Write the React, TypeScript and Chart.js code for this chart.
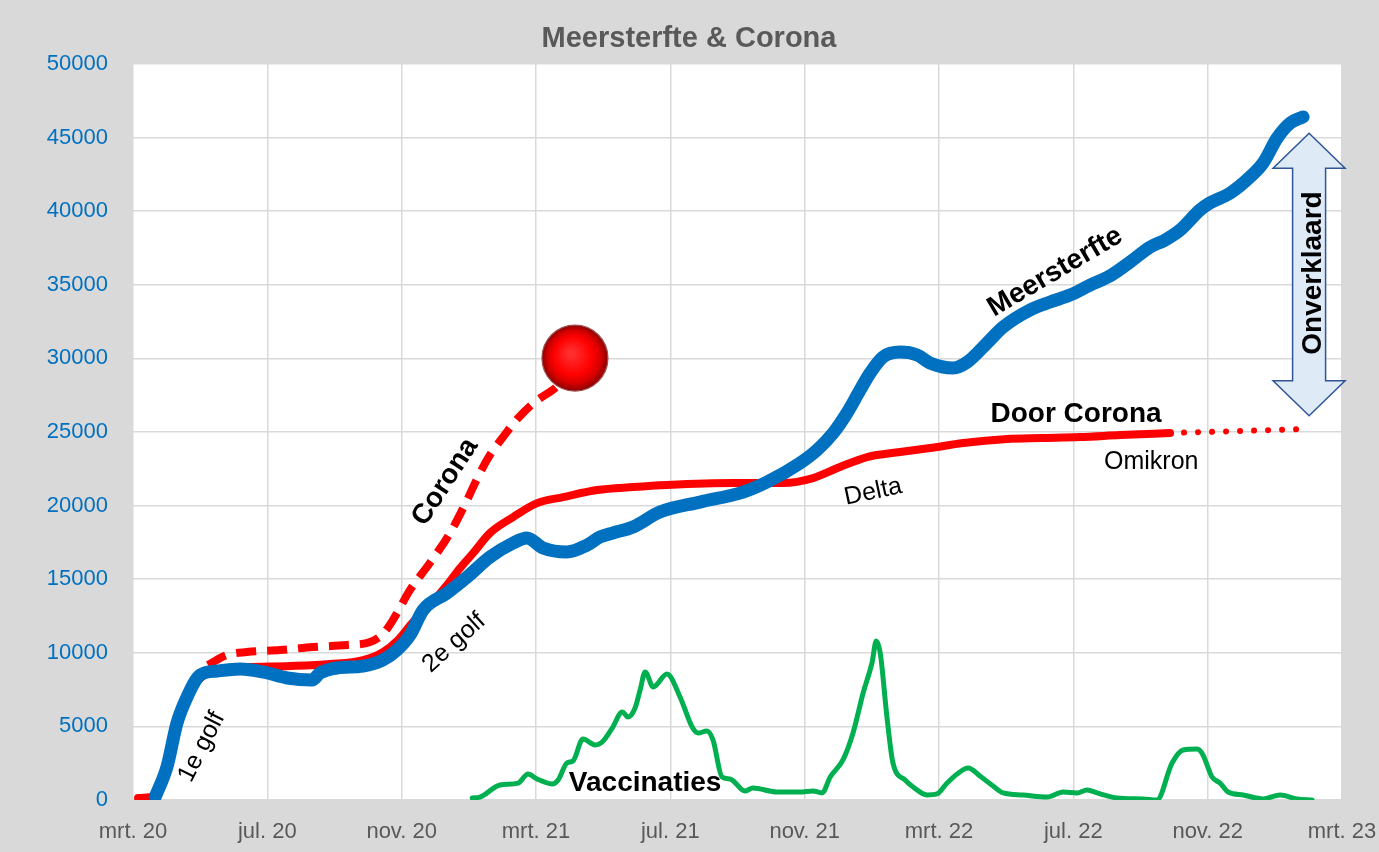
import { useEffect, useRef } from "react";
import { Chart, registerables } from "chart.js";

Chart.register(...registerables);

// ---- axis data (months since March 2020) ----
const xTickLabels = ["mrt. 20", "jul. 20", "nov. 20", "mrt. 21", "jul. 21", "nov. 21", "mrt. 22", "jul. 22", "nov. 22", "mrt. 23"];
const xMin = 0;
const xMax = 36;
const xStep = 4;
const yMin = 0;
const yMax = 50000;
const yStep = 5000;

// ---- Meersterfte (blue) ----
const meersterfteMonths = [0.66, 1.01, 1.31, 1.61, 2.0, 2.5, 3.19, 3.87, 4.59, 5.33, 5.57, 6.07, 6.85, 7.44, 7.86, 8.25, 8.64, 9.35, 9.95, 10.63, 11.32, 11.73, 12.21, 12.92, 13.52, 13.91, 14.29, 14.89, 15.69, 16.88, 18.17, 18.88, 19.86, 20.37, 20.85, 21.26, 21.65, 21.95, 22.33, 22.84, 23.35, 23.73, 24.42, 24.84, 25.43, 25.91, 26.71, 27.31, 27.9, 28.5, 29.09, 29.69, 30.29, 30.73, 31.18, 31.77, 32.07, 32.67, 33.26, 33.65, 34.07, 34.46, 34.84];
const meersterfteValues = [200, 2240, 5230, 7000, 8490, 8760, 8900, 8700, 8290, 8150, 8630, 8970, 9100, 9510, 10190, 11210, 12910, 14060, 15150, 16510, 17460, 17800, 17120, 16850, 17320, 17870, 18140, 18550, 19560, 20240, 20920, 21600, 22890, 23780, 24930, 26290, 27850, 29010, 30090, 30430, 30230, 29690, 29350, 29750, 31040, 32130, 33290, 33830, 34300, 34980, 35600, 36550, 37570, 38040, 38720, 40080, 40560, 41230, 42320, 43270, 44970, 45990, 46400];

// ---- Door Corona (red solid) ----
const doorCoronaMonths = [0.15, 0.57, 0.86, 1.16, 1.46, 1.76, 2.08, 2.59, 3.48, 4.68, 5.87, 6.85, 7.44, 7.89, 8.34, 8.84, 9.35, 9.74, 10.13, 10.63, 11.32, 12.03, 12.81, 13.82, 14.89, 15.9, 17.87, 19.36, 20.25, 21.05, 21.86, 22.84, 23.73, 24.72, 26.03, 27.01, 28.2, 29.39, 30.88];
const doorCoronaValues = [140, 200, 1020, 3400, 5980, 7610, 8420, 8900, 9030, 9100, 9240, 9510, 10050, 10870, 12090, 13250, 14600, 15760, 16780, 18140, 19220, 20170, 20580, 21060, 21260, 21400, 21530, 21530, 21870, 22620, 23300, 23640, 23910, 24250, 24520, 24590, 24660, 24790, 24930];

// ---- Door Corona extension (red dotted) ----
const extensionMonths = [30.88, 34.9];
const extensionValues = [24930, 25200];

// ---- Corona projection (red dashed) ----
const coronaMonths = [2.23, 2.8, 3.39, 4.38, 5.36, 6.37, 7.06, 7.44, 7.74, 8.25, 8.84, 9.44, 9.95, 10.27, 10.63, 11.02, 11.47, 11.97, 12.57, 12.72];
const coronaValues = [9170, 9850, 10050, 10190, 10390, 10530, 10730, 11280, 12230, 14270, 16100, 18140, 20380, 21940, 23440, 24660, 25950, 27040, 27990, 28330];

// ---- Vaccinaties (green) ----
const vaccMonths = [10.1, 10.33, 10.93, 11.47, 11.76, 12.03, 12.48, 12.66, 12.92, 13.1, 13.4, 13.76, 13.97, 14.27, 14.57, 14.74, 14.95, 15.1, 15.25, 15.49, 15.9, 16.29, 16.65, 16.83, 17.09, 17.27, 17.54, 17.78, 18.22, 18.46, 19.18, 19.86, 20.25, 20.52, 20.76, 21.14, 21.44, 21.74, 22.01, 22.13, 22.25, 22.45, 22.63, 22.99, 23.23, 23.64, 23.94, 24.24, 24.54, 24.87, 25.22, 25.61, 25.91, 26.5, 27.22, 27.7, 28.11, 28.41, 28.71, 29.3, 30.08, 30.49, 30.94, 31.27, 31.69, 31.86, 32.13, 32.37, 32.61, 33.06, 33.65, 34.16, 34.66, 35.11];
const vaccValues = [140, 200, 1020, 1150, 1770, 1430, 1090, 1360, 2510, 2650, 4140, 3740, 3940, 4890, 5980, 5640, 6250, 7470, 8700, 7680, 8560, 7000, 4960, 4550, 4690, 4080, 1560, 1430, 610, 820, 540, 540, 610, 480, 1560, 2720, 4550, 7270, 9370, 10800, 9990, 5640, 2510, 1360, 880, 340, 410, 1150, 1770, 2170, 1630, 950, 480, 340, 200, 540, 480, 680, 480, 140, 70, 0, 2510, 3400, 3460, 3060, 1560, 1150, 540, 340, 70, 340, 70, 0];

// ---- the red ball at the end of the projection ----
const ballMonth = 13.16;
const ballValue = 30020;

// ---- "Onverklaard" arrow span ----
const arrowMonth = 35.02;
const arrowTopValue = 45300;
const arrowBottomValue = 26100;

// ---- text labels on the chart ----
const chartTitle = "Meersterfte & Corona";
const labelTexts = ["1e golf", "2e golf", "Corona", "Meersterfte", "Door Corona", "Delta", "Omikron", "Vaccinaties", "Onverklaard"];
const labelMonths = [2.05, 9.56, 9.3, 27.46, 28.08, 22.04, 30.32, 15.25, 35.14];
const labelValues = [3600, 10670, 21600, 35870, 26220, 20920, 22960, 1150, 35800];
const labelAngles = [-63, -42, -57, -30.5, 0, -12, 0, 0, -90];
const labelBold = [false, false, true, true, true, false, false, true, true];

const FONT = "'Liberation Sans', Arial, sans-serif";

const toXY = (xs: number[], ys: number[]) => xs.map((x, i) => ({ x, y: ys[i] }));

const decorPlugin = {
  id: "decor",
  beforeDraw(chart: any) {
    const { ctx, chartArea: a, width, height } = chart;
    ctx.save();
    ctx.fillStyle = "#d9d9d9";
    ctx.fillRect(0, 0, width, height);
    ctx.fillStyle = "#ffffff";
    ctx.fillRect(a.left, a.top, a.right - a.left, a.bottom - a.top);
    ctx.restore();
  },
  afterDatasetsDraw(chart: any) {
    const { ctx } = chart;
    const xs = chart.scales.x;
    const ys = chart.scales.y;
    ctx.save();

    // red ball
    const bx = xs.getPixelForValue(ballMonth);
    const by = ys.getPixelForValue(ballValue);
    const r = 33;
    const g = ctx.createRadialGradient(bx - 4, by - 5, 2, bx, by, r);
    g.addColorStop(0, "#ff3030");
    g.addColorStop(0.55, "#ff0000");
    g.addColorStop(0.78, "#d80000");
    g.addColorStop(1, "#8c0000");
    ctx.beginPath();
    ctx.arc(bx, by, r, 0, Math.PI * 2);
    ctx.fillStyle = g;
    ctx.fill();
    ctx.lineWidth = 1.2;
    ctx.strokeStyle = "#a05050";
    ctx.stroke();

    // double arrow
    const ax = xs.getPixelForValue(arrowMonth);
    const at = ys.getPixelForValue(arrowTopValue);
    const ab = ys.getPixelForValue(arrowBottomValue);
    const headH = 35;
    const headW = 36;
    const shaftW = 16.5;
    ctx.beginPath();
    ctx.moveTo(ax, at);
    ctx.lineTo(ax + headW, at + headH);
    ctx.lineTo(ax + shaftW, at + headH);
    ctx.lineTo(ax + shaftW, ab - headH);
    ctx.lineTo(ax + headW, ab - headH);
    ctx.lineTo(ax, ab);
    ctx.lineTo(ax - headW, ab - headH);
    ctx.lineTo(ax - shaftW, ab - headH);
    ctx.lineTo(ax - shaftW, at + headH);
    ctx.lineTo(ax - headW, at + headH);
    ctx.closePath();
    ctx.fillStyle = "#deebf7";
    ctx.fill();
    ctx.lineWidth = 1.5;
    ctx.strokeStyle = "#2f5597";
    ctx.stroke();

    // labels
    ctx.fillStyle = "#000000";
    ctx.textAlign = "center";
    ctx.textBaseline = "middle";
    labelTexts.forEach((t, i) => {
      const px = xs.getPixelForValue(labelMonths[i]);
      const py = ys.getPixelForValue(labelValues[i]);
      ctx.save();
      ctx.translate(px, py);
      ctx.rotate((labelAngles[i] * Math.PI) / 180);
      ctx.font = labelBold[i] ? `bold 28px ${FONT}` : `25px ${FONT}`;
      ctx.fillText(t, 0, 0);
      ctx.restore();
    });
    ctx.restore();
  },
  afterDraw(chart: any) {
    const { ctx } = chart;
    ctx.save();
    ctx.fillStyle = "#595959";
    ctx.font = `bold 29px ${FONT}`;
    ctx.textAlign = "center";
    ctx.textBaseline = "middle";
    ctx.fillText(chartTitle, 689, 39);
    ctx.restore();
  },
};

export default function App() {
  const ref = useRef<HTMLCanvasElement | null>(null);
  useEffect(() => {
    if (!ref.current) return;
    const chart = new Chart(ref.current, {
      type: "line",
      data: {
        datasets: [
          {
            label: "Meersterfte",
            data: toXY(meersterfteMonths, meersterfteValues),
            borderColor: "#0070c0",
            borderWidth: 13,
            borderCapStyle: "round",
            borderJoinStyle: "round",
            pointRadius: 0,
            cubicInterpolationMode: "monotone",
            order: 1,
          },
          {
            label: "Door Corona",
            data: toXY(doorCoronaMonths, doorCoronaValues),
            borderColor: "#ff0000",
            borderWidth: 8,
            borderCapStyle: "round",
            borderJoinStyle: "round",
            pointRadius: 0,
            cubicInterpolationMode: "monotone",
            order: 2,
          },
          {
            label: "Extension",
            data: toXY(extensionMonths, extensionValues),
            borderColor: "#ff0000",
            borderWidth: 6,
            borderCapStyle: "round",
            borderDash: [0.01, 14],
            pointRadius: 0,
            order: 3,
          },
          {
            label: "Corona",
            data: toXY(coronaMonths, coronaValues),
            borderColor: "#ff0000",
            borderWidth: 8,
            borderDash: [20, 11],
            pointRadius: 0,
            cubicInterpolationMode: "monotone",
            order: 4,
          },
          {
            label: "Vaccinaties",
            data: toXY(vaccMonths, vaccValues),
            borderColor: "#00b050",
            borderWidth: 5,
            borderCapStyle: "round",
            borderJoinStyle: "round",
            pointRadius: 0,
            cubicInterpolationMode: "monotone",
            order: 5,
          },
        ],
      },
      options: {
        animation: false,
        responsive: false,
        layout: { padding: { top: 64, right: 37, left: 0, bottom: 0 } },
        plugins: { legend: { display: false }, tooltip: { enabled: false }, title: { display: false } },
        scales: {
          x: {
            type: "linear",
            min: xMin,
            max: xMax,
            afterFit: (s: any) => {
              s.height = 52;
              s.paddingLeft = 0;
              s.paddingRight = 0;
            },
            afterBuildTicks: (s: any) => {
              s.ticks = xTickLabels.map((_, i) => ({ value: xMin + i * xStep }));
            },
            ticks: {
              autoSkip: false,
              maxRotation: 0,
              padding: 19,
              color: "#595959",
              font: { family: FONT, size: 22 },
              callback: (v: any) => xTickLabels[Math.round((Number(v) - xMin) / xStep)] ?? "",
            },
            grid: { color: "#d9d9d9", lineWidth: 1.5, drawTicks: false },
            border: { display: false },
          },
          y: {
            min: yMin,
            max: yMax,
            afterFit: (s: any) => {
              s.width = 133;
              s.paddingTop = 0;
              s.paddingBottom = 0;
            },
            ticks: {
              stepSize: yStep,
              padding: 25,
              color: "#0070c0",
              font: { family: FONT, size: 22 },
              callback: (v: any) => String(v),
            },
            grid: { color: "#d9d9d9", lineWidth: 1.5, drawTicks: false },
            border: { display: false },
          },
        },
      },
      plugins: [decorPlugin],
    } as any);
    return () => chart.destroy();
  }, []);
  return (
    <div style={{ position: "absolute", left: 0, top: 0, width: 1379, height: 852, background: "#d9d9d9" }}>
      <canvas ref={ref} width={1379} height={852} />
    </div>
  );
}
